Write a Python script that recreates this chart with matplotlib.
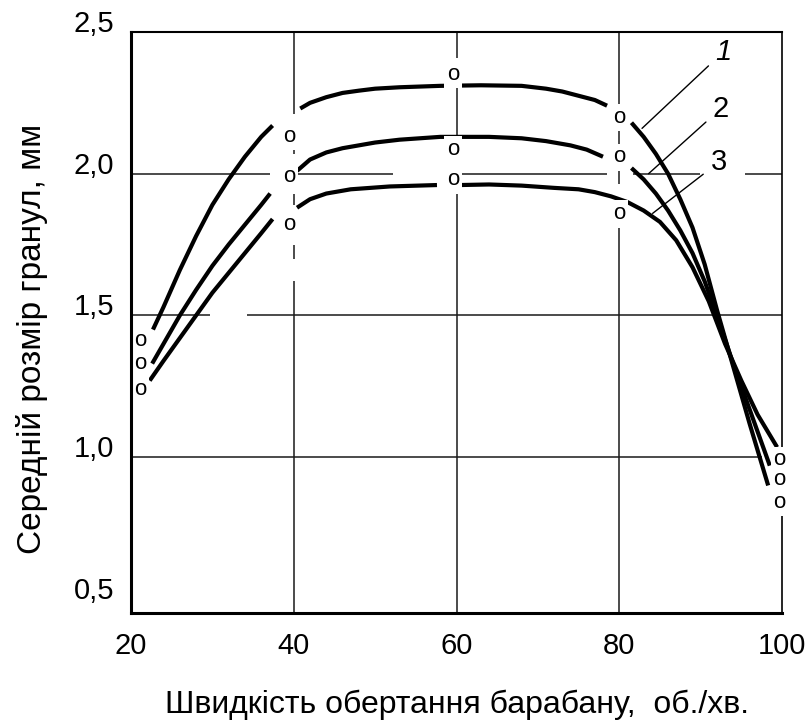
import numpy as np
import matplotlib
matplotlib.use('Agg')
import matplotlib.pyplot as plt

plt.rcParams['font.family'] = ['Liberation Sans', 'DejaVu Sans']

nan = np.nan

# curves (nan = break at a marker)
x1 = [22.7, 24, 26, 28, 30, 32, 34, 36, 37.4, nan,
      40.8, 42, 44, 46, 48, 50, 53, 58, 63, 68, 71, 73, 75, 77, 78.5, nan,
      81.5, 83, 84.5, 86, 87.5, 89, 90.5, 92, 94, 96, 98.3]
y1 = [1.45, 1.53, 1.66, 1.78, 1.89, 1.98, 2.06, 2.13, 2.17, nan,
      2.23, 2.25, 2.27, 2.285, 2.293, 2.30, 2.305, 2.31, 2.312, 2.31, 2.30, 2.29, 2.275, 2.26, 2.24, nan,
      2.18, 2.13, 2.07, 2.00, 1.91, 1.81, 1.68, 1.52, 1.32, 1.12, 0.90]

x2 = [22.6, 24, 26, 28, 30, 32, 34, 36, 37.1, nan,
      40.4, 42, 44, 46, 48, 50, 53, 58, 64, 68, 71, 74, 76, 78, nan,
      81.5, 83, 84.5, 86, 87.5, 89, 90.5, 92, 94, 96, 98.5]
y2 = [1.33, 1.40, 1.50, 1.59, 1.675, 1.75, 1.82, 1.89, 1.93, nan,
      2.01, 2.05, 2.075, 2.09, 2.10, 2.11, 2.12, 2.13, 2.13, 2.125, 2.115, 2.10, 2.085, 2.06, nan,
      2.02, 1.98, 1.93, 1.87, 1.80, 1.72, 1.62, 1.50, 1.33, 1.17, 0.97]

x3 = [22.3, 24, 26, 28, 30, 32, 34, 36, 37.4, nan,
      40.4, 42, 44, 47, 51.8, 57.6, nan,
      60.4, 64, 68, 72, 75, 77, 79, 81, 83, 85, 87, 89, 91, 93, 95, 97, 99.4]
y3 = [1.27, 1.34, 1.42, 1.50, 1.58, 1.65, 1.72, 1.79, 1.84, nan,
      1.88, 1.91, 1.93, 1.945, 1.955, 1.96, nan,
      1.96, 1.962, 1.958, 1.95, 1.945, 1.935, 1.92, 1.90, 1.87, 1.83, 1.765, 1.67, 1.55, 1.40, 1.27, 1.15, 1.035]

# measured points ("o")
mx = [21.1, 39.4, 59.6, 80.0, 99.7]
m1 = [1.41, 2.13, 2.35, 2.20, 0.84]
m2 = [1.33, 1.99, 2.085, 2.06, 0.92]
m3 = [1.24, 1.82, 1.98, 1.86, 0.99]

curve_names = ['1', '2', '3']
leader_on_curve = [(82.8, 2.16), (83.6, 2.00), (84.1, 1.86)]
name_pos = [(92.8, 2.43), (92.5, 2.23), (92.2, 2.04)]

xticks = [20, 40, 60, 80, 100]
yticks = [0.5, 1.0, 1.5, 2.0, 2.5]
ytick_labels = ['0,5', '1,0', '1,5', '2,0', '2,5']

# grid pieces as drawn in the original (broken around marks)
vgrid = {40: [(0.45, 1.62), (1.70, 1.75), (1.89, 1.93), (2.07, 2.11), (2.21, 2.5)],
         60: [(0.45, 1.93), (2.135, 2.305), (2.41, 2.5)],
         80: [(0.45, 1.81), (1.965, 2.01), (2.106, 2.15), (2.24, 2.5)]}
hgrid = {1.0: [(20, 97.6)],
         1.5: [(20, 29.7), (34.3, 100)],
         2.0: [(20, 37.1), (40.4, 52.2), (60.4, 78.5), (81.7, 89.9), (95.4, 100)]}

fig = plt.figure(figsize=(8.08, 7.2), dpi=100)
ax = fig.add_axes([131/808, 107/720, 651/808, 581/720])

ax.set_xlim(20, 100)
ax.set_ylim(0.45, 2.5)

gcol = '#1a1a1a'
for gx, pieces in vgrid.items():
    for a, b in pieces:
        ax.vlines(gx, a, b, color=gcol, lw=1.1, zorder=1)
for gy, pieces in hgrid.items():
    for a, b in pieces:
        ax.hlines(gy, a, b, color=gcol, lw=1.1, zorder=1)

for xs, ys in [(x1, y1), (x2, y2), (x3, y3)]:
    ax.plot(xs, ys, color='black', lw=3.0, solid_capstyle='butt', zorder=3)

for ms in [m1, m2, m3]:
    for xv, yv in zip(mx, ms):
        ax.text(xv, yv, 'o', ha='center', va='center', fontsize=16, zorder=4,
                bbox=dict(boxstyle='square,pad=0.12', fc='white', ec='none'))

for name, xy, pos in zip(curve_names, leader_on_curve, name_pos):
    ax.annotate(name, xy=xy, xytext=pos, ha='center', va='center', fontsize=21,
                style='italic' if name == '1' else 'normal',
                arrowprops=dict(arrowstyle='-', lw=1.0, color='black', shrinkA=4, shrinkB=0),
                zorder=5)

ax.set_xticks(xticks)
ax.set_yticks(yticks)
ax.set_yticklabels(ytick_labels)
ax.tick_params(length=0, labelsize=21)
ax.tick_params(axis='x', pad=14)
ax.tick_params(axis='y', pad=12)
plt.setp(ax.get_yticklabels(), va='baseline')

ax.spines['top'].set_linewidth(1.5)
ax.spines['right'].set_linewidth(1.2)
ax.spines['left'].set_linewidth(2.2)
ax.spines['bottom'].set_linewidth(2.2)
ax.spines['left'].set_zorder(6)
ax.spines['bottom'].set_zorder(6)

ax.set_xlabel('Швидкість обертання барабану,  об./хв.', fontsize=23)
ax.xaxis.set_label_coords(0.5, -0.172)
ax.xaxis.label.set_va('baseline')
ax.set_ylabel('Середній розмір гранул, мм', fontsize=24)
ax.yaxis.set_label_coords(-0.152, 0.472)
ax.yaxis.label.set_va('center')

fig.savefig('out.png', dpi=100)
